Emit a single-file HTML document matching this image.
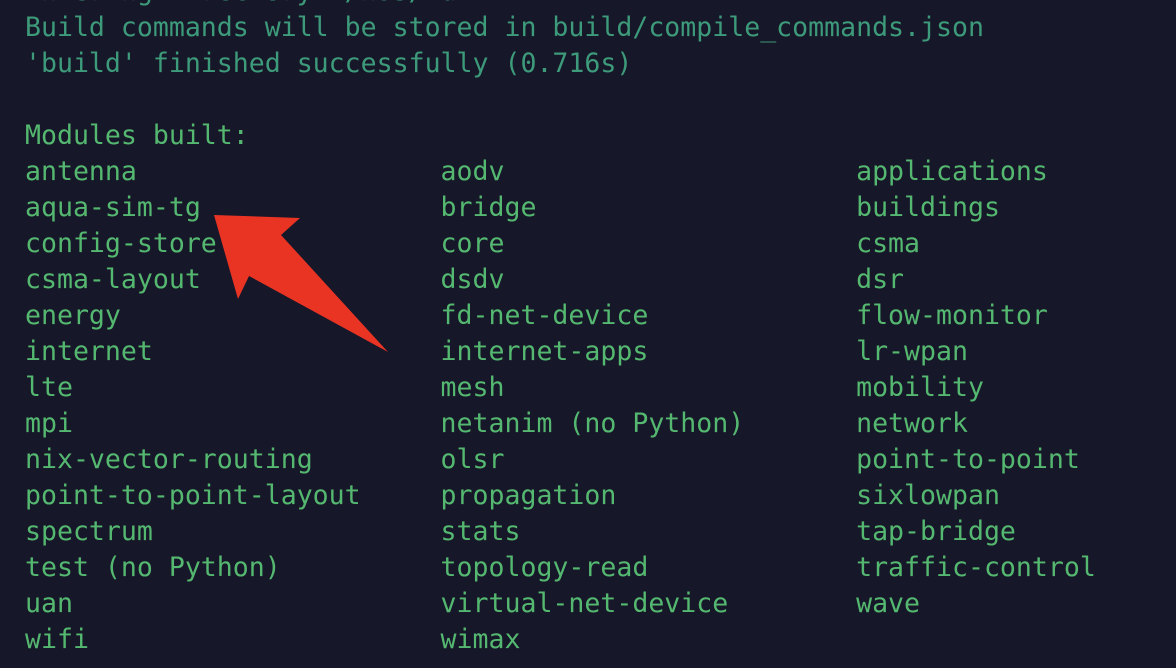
<!DOCTYPE html>
<html><head><style>
html,body{margin:0;padding:0;width:1176px;height:668px;overflow:hidden;background:#161728;}
pre{position:absolute;left:25px;top:-26px;margin:0;font-family:"DejaVu Sans Mono","Liberation Mono",monospace;font-size:26.55px;line-height:36px;color:#55b870;white-space:pre;}
.t{color:#3d9a7a;}
svg{position:absolute;left:0;top:0;}
</style></head><body>
<pre><span class="t">Entering directory `/ns3/build'
Build commands will be stored in build/compile_commands.json
'build' finished successfully (0.716s)</span>

Modules built:
antenna                   aodv                      applications
aqua-sim-tg               bridge                    buildings
config-store              core                      csma
csma-layout               dsdv                      dsr
energy                    fd-net-device             flow-monitor
internet                  internet-apps             lr-wpan
lte                       mesh                      mobility
mpi                       netanim (no Python)       network
nix-vector-routing        olsr                      point-to-point
point-to-point-layout     propagation               sixlowpan
spectrum                  stats                     tap-bridge
test (no Python)          topology-read             traffic-control
uan                       virtual-net-device        wave
wifi                      wimax</pre>
<svg width="1176" height="668"><polygon points="214,215 300,218 281,235 388,352 249,276 238,299" fill="#e93424"/></svg>
</body></html>
